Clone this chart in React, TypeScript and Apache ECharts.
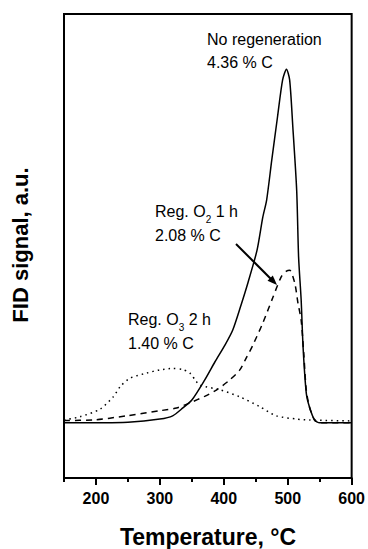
import React, { useEffect, useRef } from "react";
import * as echarts from "echarts";

// Temperature (°C) and FID signal (a.u.) for each sample
const noRegenT = [150, 200, 250, 300, 320, 336, 350, 370, 386, 402, 414, 427, 438, 452, 461, 467, 475, 484, 492, 498, 503, 508, 514, 517, 521, 524, 529, 534, 542, 550, 600];
const noRegenV = [11.9, 11.9, 12.0, 12.7, 13.4, 15.1, 16.8, 21.1, 25.0, 28.7, 31.9, 37.3, 42.2, 49.1, 56.2, 59.9, 68.5, 77.8, 85.8, 88.1, 85.8, 75.6, 62.0, 47.6, 38.4, 28.2, 18.3, 15.3, 12.5, 11.9, 11.9];

const regO2T = [150, 195, 248, 300, 326, 347, 370, 389, 409, 425, 436, 445, 461, 477, 490, 498, 503, 511, 516, 521, 525, 529, 534, 542, 550, 600];
const regO2V = [12.4, 12.5, 13.4, 14.5, 15.1, 16.2, 17.6, 19.0, 21.1, 23.3, 26.1, 28.5, 33.4, 39.0, 43.4, 44.6, 44.8, 42.0, 37.7, 34.0, 27.0, 19.0, 15.3, 12.5, 11.9, 11.9];

const regO3T = [150, 175, 206, 227, 238, 253, 279, 300, 320, 335, 347, 357, 363, 394, 425, 456, 482, 514, 534, 600];
const regO3V = [12.5, 13.2, 14.8, 17.5, 19.7, 21.5, 22.6, 23.3, 23.6, 23.4, 22.6, 20.8, 20.0, 19.0, 17.5, 15.4, 13.4, 12.7, 12.5, 12.3];

const majorTicks = [200, 300, 400, 500, 600];
const minorTicks = [150, 250, 350, 450, 550];

const FONT = '"Liberation Sans", Arial, Helvetica, sans-serif';

const zip = (t: number[], v: number[]) => t.map((x, i) => [x, v[i]]);

export default function App() {
  const ref = useRef<HTMLDivElement>(null);
  useEffect(() => {
    document.body.style.margin = "0";
    const chart = echarts.init(ref.current!, undefined, { renderer: "svg" });
    const lineBase = { type: "line" as const, showSymbol: false, smooth: 0.25, silent: true };
    chart.setOption({
      animation: false,
      backgroundColor: "#ffffff",
      grid: { left: 64, top: 14, width: 288, height: 464, show: true, borderColor: "#000", borderWidth: 2, backgroundColor: "transparent" },
      xAxis: [
        {
          type: "value", min: 150, max: 600, interval: 50,
          axisLine: { show: true, lineStyle: { color: "#000", width: 2 } },
          axisTick: { show: true, customValues: majorTicks, length: 7, lineStyle: { color: "#000", width: 2 } },
          axisLabel: {
            customValues: majorTicks, color: "#000", margin: 12,
            formatter: "{b|{value}}",
            rich: { b: { fontFamily: FONT, fontWeight: "bold", fontSize: 16, color: "#000" } },
          },
          splitLine: { show: false },
        },
        {
          type: "value", min: 150, max: 600, interval: 50, position: "bottom",
          axisLine: { show: false },
          axisTick: { show: true, customValues: minorTicks, length: 4, lineStyle: { color: "#000", width: 2 } },
          axisLabel: { show: false },
          splitLine: { show: false },
        },
      ],
      yAxis: {
        type: "value", min: 0, max: 100,
        axisLine: { show: false }, axisTick: { show: false }, axisLabel: { show: false }, splitLine: { show: false },
      },
      series: [
        { ...lineBase, name: "No regeneration", data: zip(noRegenT, noRegenV), lineStyle: { color: "#000", width: 1.5, type: "solid" } },
        { ...lineBase, name: "Reg. O2 1 h", data: zip(regO2T, regO2V), lineStyle: { color: "#000", width: 1.5, type: [6, 5] } },
        { ...lineBase, name: "Reg. O3 2 h", data: zip(regO3T, regO3V), lineStyle: { color: "#000", width: 1.5, type: [1.5, 4] } },
      ],
      graphic: [
        { type: "text", x: 20, y: 245, rotation: Math.PI / 2, style: { text: "FID signal, a.u.", font: `bold 22px ${FONT}`, fill: "#000", align: "center", verticalAlign: "middle" } },
        { type: "text", x: 208, y: 537, style: { text: "Temperature, °C", font: `bold 23px ${FONT}`, fill: "#000", align: "center", verticalAlign: "middle" } },
        { type: "text", x: 207, y: 39, style: { text: "No regeneration", font: `16px ${FONT}`, fill: "#000", align: "left", verticalAlign: "middle" } },
        { type: "text", x: 207, y: 62, style: { text: "4.36 % C", font: `16px ${FONT}`, fill: "#000", align: "left", verticalAlign: "middle" } },
        {
          type: "text", x: 155, y: 211, style: {
            text: "{t|Reg. O}{s|2}{t| 1 h}", fill: "#000", align: "left", verticalAlign: "middle",
            rich: { t: { fontFamily: FONT, fontSize: 16, lineHeight: 18, fill: "#000" }, s: { fontFamily: FONT, fontSize: 10, lineHeight: 10, padding: [16, 0, 0, 0], fill: "#000" } },
          },
        },
        { type: "text", x: 155, y: 235, style: { text: "2.08 % C", font: `16px ${FONT}`, fill: "#000", align: "left", verticalAlign: "middle" } },
        {
          type: "text", x: 128, y: 319, style: {
            text: "{t|Reg. O}{s|3}{t| 2 h}", fill: "#000", align: "left", verticalAlign: "middle",
            rich: { t: { fontFamily: FONT, fontSize: 16, lineHeight: 18, fill: "#000" }, s: { fontFamily: FONT, fontSize: 10, lineHeight: 10, padding: [16, 0, 0, 0], fill: "#000" } },
          },
        },
        { type: "text", x: 128, y: 343, style: { text: "1.40 % C", font: `16px ${FONT}`, fill: "#000", align: "left", verticalAlign: "middle" } },
        { type: "line", shape: { x1: 236, y1: 244, x2: 272, y2: 280 }, style: { stroke: "#000", lineWidth: 2 } },
        { type: "polygon", shape: { points: [[277, 285], [267.5, 280.8], [272.8, 275.5]] }, style: { fill: "#000" } },
      ],
    });
    return () => chart.dispose();
  }, []);
  return <div ref={ref} style={{ width: 368, height: 549 }} />;
}
